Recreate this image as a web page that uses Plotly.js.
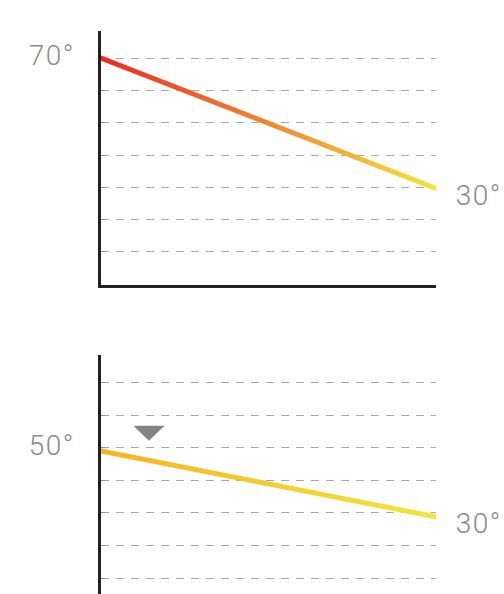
<!DOCTYPE html>
<html>
<head>
<meta charset="utf-8">
<script src="https://cdn.plot.ly/plotly-3.0.1.min.js"></script>
<style>
  html, body { margin: 0; padding: 0; background: #ffffff; }
  #chart { width: 504px; height: 594px; }
</style>
</head>
<body>
<div id="chart"></div>
<script>
// ---- data ----
const xPos = [0, 1];
const topTemps = [70.2, 29.6];
const bottomTemps = [49.1, 28.8];
const topLabels = ['70°', '30°'];
const bottomLabels = ['50°', '30°'];
const markerX = [0.143];
const markerY = [54.5];
const gridTicks = [10, 20, 30, 40, 50, 60, 70];

const topColors = ['#ec2a26', '#f5e43c'];
const bottomColors = ['#f8b321', '#f3e53c'];

const W = 504, H = 594;
const xDom = [101 / W, 436 / W];
const topDom = [1 - 285 / H, 1 - 31 / H];
const botDom = [0, 1 - 355 / H];

const labelFont = { family: 'Roboto, "Open Sans", sans-serif', size: 28, weight: 300, color: '#8a8a8a' };

const data = [
  { x: xPos, y: topTemps, xaxis: 'x', yaxis: 'y', mode: 'lines', type: 'scatter',
    line: { color: topColors[0], width: 5 }, hoverinfo: 'skip' },
  { x: xPos, y: bottomTemps, xaxis: 'x2', yaxis: 'y2', mode: 'lines', type: 'scatter',
    line: { color: bottomColors[0], width: 5 }, hoverinfo: 'skip' }
];

const yCommon = {
  tickmode: 'array', tickvals: gridTicks, showticklabels: false,
  showgrid: true, gridcolor: '#a8a8a8', gridwidth: 1, griddash: '8px,7px',
  ticks: 'inside', ticklen: 4, tickcolor: '#8c8c8c', tickwidth: 1,
  showline: true, linecolor: '#231f20', linewidth: 3,
  zeroline: false, layer: 'below traces', fixedrange: true
};

const annotations = [
  { xref: 'x', yref: 'y', x: xPos[0], y: topTemps[0], text: topLabels[0], showarrow: false,
    xanchor: 'right', yanchor: 'middle', xshift: -26, yshift: 2, font: labelFont },
  { xref: 'x', yref: 'y', x: xPos[1], y: topTemps[1], text: topLabels[1], showarrow: false,
    xanchor: 'left', yanchor: 'middle', xshift: 20, yshift: -7, font: labelFont },
  { xref: 'x2', yref: 'y2', x: xPos[0], y: bottomTemps[0], text: bottomLabels[0], showarrow: false,
    xanchor: 'right', yanchor: 'middle', xshift: -26, yshift: 5, font: labelFont },
  { xref: 'x2', yref: 'y2', x: xPos[1], y: bottomTemps[1], text: bottomLabels[1], showarrow: false,
    xanchor: 'left', yanchor: 'middle', xshift: 20, yshift: -7, font: labelFont }
];

const layout = {
  width: W, height: H,
  margin: { l: 0, r: 0, t: 0, b: 0, pad: 0 },
  paper_bgcolor: '#ffffff', plot_bgcolor: 'rgba(0,0,0,0)',
  showlegend: false,
  xaxis: { domain: xDom, anchor: 'y', range: [0, 1], showgrid: false, zeroline: false,
           showticklabels: false, ticks: '', showline: true, linecolor: '#231f20', linewidth: 3,
           layer: 'below traces', fixedrange: true },
  yaxis: Object.assign({}, yCommon, { domain: topDom, anchor: 'x', range: [-0.46, 78.6] }),
  xaxis2: { domain: xDom, anchor: 'y2', range: [0, 1], showgrid: false, zeroline: false,
            showticklabels: false, ticks: '', showline: false, fixedrange: true },
  yaxis2: Object.assign({}, yCommon, { domain: botDom, anchor: 'x2', range: [5.08, 78.6] }),
  shapes: [
    { type: 'path', xref: 'x2', yref: 'y2', xsizemode: 'pixel', ysizemode: 'pixel',
      xanchor: markerX[0], yanchor: markerY[0],
      path: 'M-15.5,7.5L15.5,7.5L0,-7.5Z',
      fillcolor: '#838385', line: { width: 0 }, layer: 'above' }
  ],
  annotations: annotations
};

Plotly.newPlot('chart', data, layout, { staticPlot: true, displayModeBar: false }).then(function (gd) {
  const ns = 'http://www.w3.org/2000/svg';
  const svg = gd.querySelector('.main-svg');
  let defs = svg.querySelector('defs');
  if (!defs) { defs = document.createElementNS(ns, 'defs'); svg.insertBefore(defs, svg.firstChild); }
  function makeGrad(id, cols) {
    const g = document.createElementNS(ns, 'linearGradient');
    g.setAttribute('id', id);
    g.setAttribute('x1', '0'); g.setAttribute('y1', '0');
    g.setAttribute('x2', '1'); g.setAttribute('y2', '0');
    cols.forEach(function (c, i) {
      const s = document.createElementNS(ns, 'stop');
      s.setAttribute('offset', String(i / (cols.length - 1)));
      s.setAttribute('stop-color', c);
      g.appendChild(s);
    });
    defs.appendChild(g);
  }
  makeGrad('gradTop', topColors);
  makeGrad('gradBottom', bottomColors);
  const lines = gd.querySelectorAll('.scatterlayer .trace .js-line');
  const ids = ['gradTop', 'gradBottom'];
  lines.forEach(function (p, i) {
    if (ids[i]) {
      p.style.setProperty('stroke', 'url(#' + ids[i] + ')');
      p.style.setProperty('stroke-linecap', 'round');
    }
  });
  gd.querySelectorAll('.annotation-text').forEach(function (t) {
    t.style.setProperty('letter-spacing', '1.5px');
  });
});
</script>
</body>
</html>
